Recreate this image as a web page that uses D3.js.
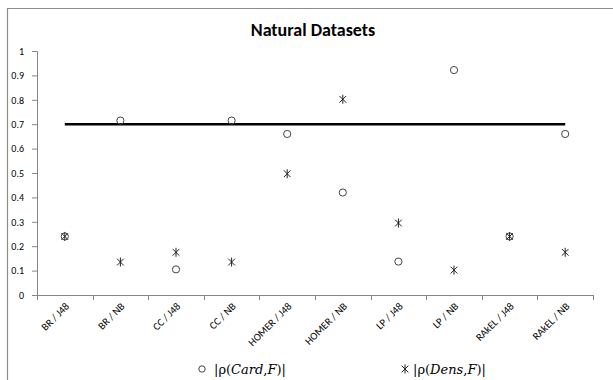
<!DOCTYPE html>
<html><head><meta charset="utf-8">
<script src="https://cdn.jsdelivr.net/npm/d3@7"></script>
<style>body{margin:0;background:#fff}</style>
</head><body>
<svg id="c" width="613" height="380"></svg>
<script>
const categories = ["BR / J48","BR / NB","CC / J48","CC / NB","HOMER / J48","HOMER / NB","LP / J48","LP / NB","RAkEL / J48","RAkEL / NB"];
const cardValues = [0.24,0.715,0.105,0.715,0.66,0.42,0.137,0.922,0.24,0.66];
const densValues = [0.24,0.135,0.175,0.135,0.497,0.802,0.295,0.102,0.24,0.175];
const thresholdValue = 0.7;
const yTicks = [0,0.1,0.2,0.3,0.4,0.5,0.6,0.7,0.8,0.9,1];

const svg = d3.select("#c");
const W=613,H=380;
svg.append("path").attr("d","M7.5,"+H+"V8.5H"+(W+2)).attr("fill","none").attr("stroke","#8c8c8c").attr("stroke-width",1.2);

const x = d3.scaleBand().domain(categories).range([37,593]);
const y = d3.scaleLinear().domain([0,1]).range([295,51]);
const tickC="#868686";
const F = "Carlito, 'Open Sans', sans-serif";

svg.append("text").attr("x",313).attr("y",36).attr("text-anchor","middle")
  .attr("font-family",F).attr("font-weight","bold").attr("font-size",18).attr("fill","#000").text("Natural Datasets");

const ya = svg.append("g").attr("transform","translate(37,0)")
  .call(d3.axisLeft(y).tickValues(yTicks).tickSize(5).tickPadding(8).tickFormat(d=>d3.format("")(d)));
ya.selectAll("path,line").attr("stroke",tickC);
ya.selectAll("text").attr("font-family",F).attr("font-size",10).attr("fill","#000");
ya.select(".domain").attr("d","M-5,51.5H0.5V295.5");

const xa = svg.append("g").attr("transform","translate(0,295)");
xa.append("line").attr("x1",37).attr("x2",593).attr("y1",0.5).attr("y2",0.5).attr("stroke",tickC);
const tickPos = categories.map(c=>x(c)).concat([x.range()[1]]);
xa.selectAll("line.t").data(tickPos).join("line").attr("class","t")
  .attr("x1",d=>Math.round(d)+0.5).attr("x2",d=>Math.round(d)+0.5).attr("y1",0).attr("y2",5).attr("stroke",tickC);
xa.selectAll("text").data(categories).join("text")
  .attr("transform",d=>`translate(${x(d)+x.bandwidth()/2+5},12) rotate(-45)`)
  .attr("text-anchor","end").attr("font-family",F).attr("font-size",10.5).attr("fill","#000")
  .text(d=>d);

const cx = c=>x(c)+x.bandwidth()/2;
svg.append("line").attr("x1",cx(categories[0])).attr("x2",cx(categories[categories.length-1]))
  .attr("y1",y(thresholdValue)).attr("y2",y(thresholdValue)).attr("stroke","#000").attr("stroke-width",2.5);

function star(px,py,r){
  const d=r*0.75;
  return `M${px},${py-r}V${py+r}M${px-d},${py-d}L${px+d},${py+d}M${px-d},${py+d}L${px+d},${py-d}`;
}
svg.append("g").selectAll("path").data(categories).join("path")
  .attr("d",(c,i)=>star(cx(c),y(densValues[i]),4.5)).attr("stroke","#222").attr("stroke-width",1).attr("fill","none");
svg.append("g").selectAll("circle").data(categories).join("circle")
  .attr("cx",c=>cx(c)).attr("cy",(c,i)=>y(cardValues[i])).attr("r",3.6)
  .attr("fill","none").attr("stroke","#444").attr("stroke-width",1);

const lg = svg.append("g");
function legendText(px, word){
  const t = lg.append("text").attr("x",px).attr("y",373.5).attr("font-family","'DejaVu Serif', serif").attr("font-size",13).attr("fill","#000");
  t.append("tspan").text("|ρ(");
  t.append("tspan").attr("font-style","italic").text(word);
  t.append("tspan").text(",");
  t.append("tspan").attr("font-style","italic").text("F");
  t.append("tspan").text(")|");
}
lg.append("circle").attr("cx",202).attr("cy",369).attr("r",3.2).attr("fill","none").attr("stroke","#444");
legendText(214,"Card");
lg.append("path").attr("d",star(405,369,4.5)).attr("stroke","#222").attr("fill","none");
legendText(413,"Dens");
</script>
</body></html>
